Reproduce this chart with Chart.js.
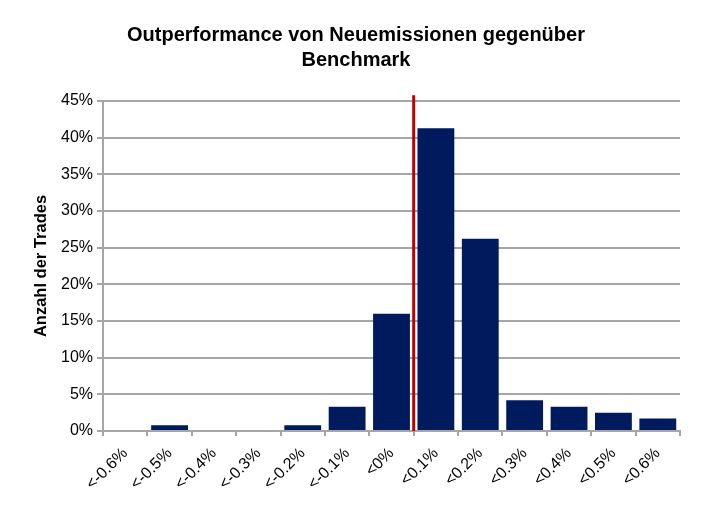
<!DOCTYPE html>
<html>
<head>
<meta charset="utf-8">
<script src="https://cdn.jsdelivr.net/npm/chart.js@4"></script>
<style>
    body { margin: 0; background: #fff; }
    #wrap { width: 709px; height: 508px; }
</style>
</head>
<body>
<div id="wrap"><canvas id="chart"></canvas></div>
<script>
// Daten
const categories = ['<-0.6%', '<-0.5%', '<-0.4%', '<-0.3%', '<-0.2%', '<-0.1%', '<0%',
                    '<0.1%', '<0.2%', '<0.3%', '<0.4%', '<0.5%', '<0.6%'];
const shares = [0, 0.8, 0, 0, 0.8, 3.3, 16.0, 41.3, 26.2, 4.2, 3.3, 2.5, 1.7];
const yTicks = [0, 5, 10, 15, 20, 25, 30, 35, 40, 45];
const dividerAt = 6.5;    // zwischen <0% und <0.1%
const dividerTop = 45.8;

const FONT = "'Liberation Sans', Arial, sans-serif";

// rote Trennlinie bei 0
const dividerLine = {
    id: 'dividerLine',
    afterDatasetsDraw(chart) {
        const { ctx, scales: { x, y } } = chart;
        const px = x.getPixelForValue(dividerAt);
        ctx.save();
        ctx.strokeStyle = '#c00000';
        ctx.lineWidth = 3;
        ctx.beginPath();
        ctx.moveTo(px, y.getPixelForValue(0));
        ctx.lineTo(px, y.getPixelForValue(dividerTop));
        ctx.stroke();
        ctx.restore();
    }
};

const ctx = document.getElementById('chart').getContext('2d');
new Chart(ctx, {
    type: 'bar',
    data: {
        labels: categories,
        datasets: [{
            label: 'Anzahl der Trades',
            data: shares,
            backgroundColor: '#001a5e',
            categoryPercentage: 1,
            barPercentage: 0.83
        }]
    },
    plugins: [dividerLine],
    options: {
        responsive: true,
        maintainAspectRatio: false,
        animation: false,
        layout: { padding: { left: 32, right: 29, top: 0, bottom: 0 } },
        plugins: {
            legend: { display: false },
            tooltip: { enabled: false },
            title: {
                display: true,
                text: ['Outperformance von Neuemissionen gegenüber', 'Benchmark'],
                color: '#000',
                font: { family: FONT, size: 20, weight: 'bold', lineHeight: 1.25 },
                padding: { top: 22.5, bottom: 28.5 }
            }
        },
        scales: {
            x: {
                grid: { display: true, drawOnChartArea: false, offset: true, color: '#a6a6a6', lineWidth: 2, tickLength: 5 },
                border: { color: '#a6a6a6', width: 2 },
                ticks: {
                    color: '#000',
                    font: { family: FONT, size: 16 },
                    minRotation: 45,
                    maxRotation: 45,
                    autoSkip: false,
                    padding: 8
                },
                afterFit: s => { s.height = 77; }
            },
            y: {
                min: 0,
                max: 45,
                afterBuildTicks: s => { s.ticks = yTicks.map(v => ({ value: v })); },
                grid: { color: '#a6a6a6', lineWidth: 2, tickLength: 6 },
                border: { color: '#a6a6a6', width: 2 },
                ticks: {
                    color: '#000',
                    font: { family: FONT, size: 16 },
                    padding: 4,
                    callback: v => v + '%'
                },
                title: {
                    display: true,
                    text: 'Anzahl der Trades',
                    color: '#000',
                    font: { family: FONT, size: 16.5, weight: 'bold' },
                    padding: { top: 0, bottom: 4 }
                },
                afterFit: s => { s.width = 71; }
            }
        }
    }
});
</script>
</body>
</html>
